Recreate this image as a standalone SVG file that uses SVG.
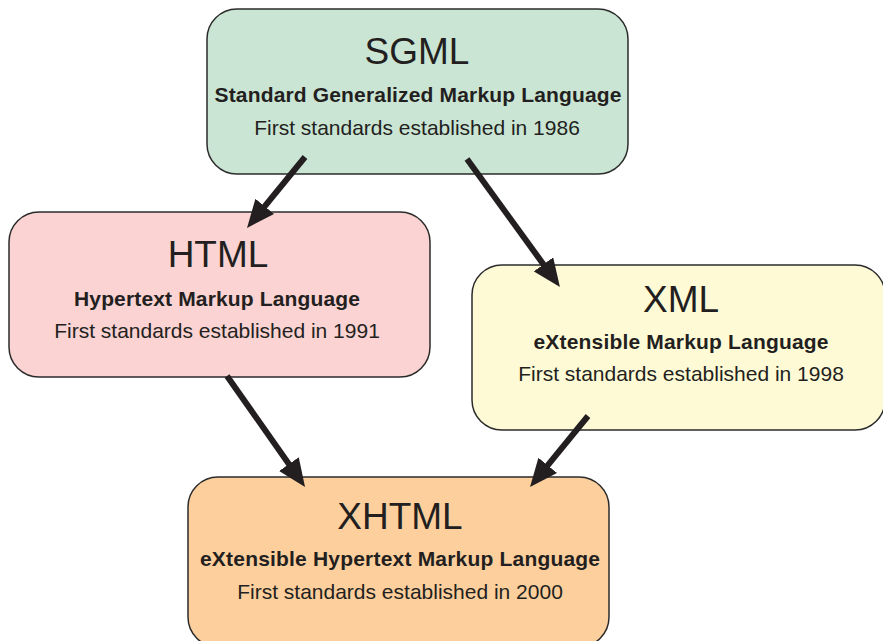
<svg xmlns="http://www.w3.org/2000/svg" width="883" height="641" viewBox="0 0 883 641">
  <style>
    .box { stroke: #2b2b2b; stroke-width: 1.5; }
    .title { font-family: "Liberation Sans", Arial, sans-serif; font-size: 37px; fill: #231f20; text-anchor: middle; }
    .sub { font-family: "Liberation Sans", Arial, sans-serif; font-size: 21px; font-weight: bold; fill: #231f20; text-anchor: middle; }
    .date { font-family: "Liberation Sans", Arial, sans-serif; font-size: 21px; fill: #231f20; text-anchor: middle; }
    .arrow { stroke: #231f20; stroke-width: 6; fill: none; marker-end: url(#head); }
  </style>
  <defs>
    <marker id="head" markerUnits="userSpaceOnUse" viewBox="0 0 28 24" markerWidth="28" markerHeight="24" refX="13" refY="12" orient="auto">
      <path d="M0,0 L28,12 L0,24 z" fill="#231f20"/>
    </marker>
  </defs>
  <rect width="883" height="641" fill="#ffffff"/>

  <g id="sgml">
    <rect class="box" x="207" y="9" width="421" height="165" rx="30" ry="30" fill="#cae5d4"/>
    <text class="title" x="417" y="64">SGML</text>
    <text class="sub" x="418" y="102" textLength="407" lengthAdjust="spacing">Standard Generalized Markup Language</text>
    <text class="date" x="417" y="135">First standards established in 1986</text>
  </g>

  <g id="html">
    <rect class="box" x="9" y="212" width="421" height="165" rx="30" ry="30" fill="#fad3d2"/>
    <text class="title" x="218" y="267">HTML</text>
    <text class="sub" x="217" y="306" textLength="286" lengthAdjust="spacing">Hypertext Markup Language</text>
    <text class="date" x="217" y="338">First standards established in 1991</text>
  </g>

  <g id="xml">
    <rect class="box" x="472" y="265" width="413" height="165" rx="30" ry="30" fill="#fffad6"/>
    <text class="title" x="681" y="312">XML</text>
    <text class="sub" x="681" y="349" textLength="295" lengthAdjust="spacing">eXtensible Markup Language</text>
    <text class="date" x="681" y="381">First standards established in 1998</text>
  </g>

  <g id="xhtml">
    <rect class="box" x="188" y="477" width="421" height="170" rx="30" ry="30" fill="#fdcf9d"/>
    <text class="title" x="400" y="529">XHTML</text>
    <text class="sub" x="400" y="566" textLength="400" lengthAdjust="spacing">eXtensible Hypertext Markup Language</text>
    <text class="date" x="400" y="599">First standards established in 2000</text>
  </g>

  <g id="connectors">
    <line class="arrow" x1="305" y1="157" x2="256.5" y2="216.4"/>
    <line class="arrow" x1="467" y1="159" x2="551.1" y2="274.9"/>
    <line class="arrow" x1="227" y1="376" x2="296.4" y2="474.7"/>
    <line class="arrow" x1="588" y1="416" x2="539.5" y2="475.4"/>
  </g>
</svg>
